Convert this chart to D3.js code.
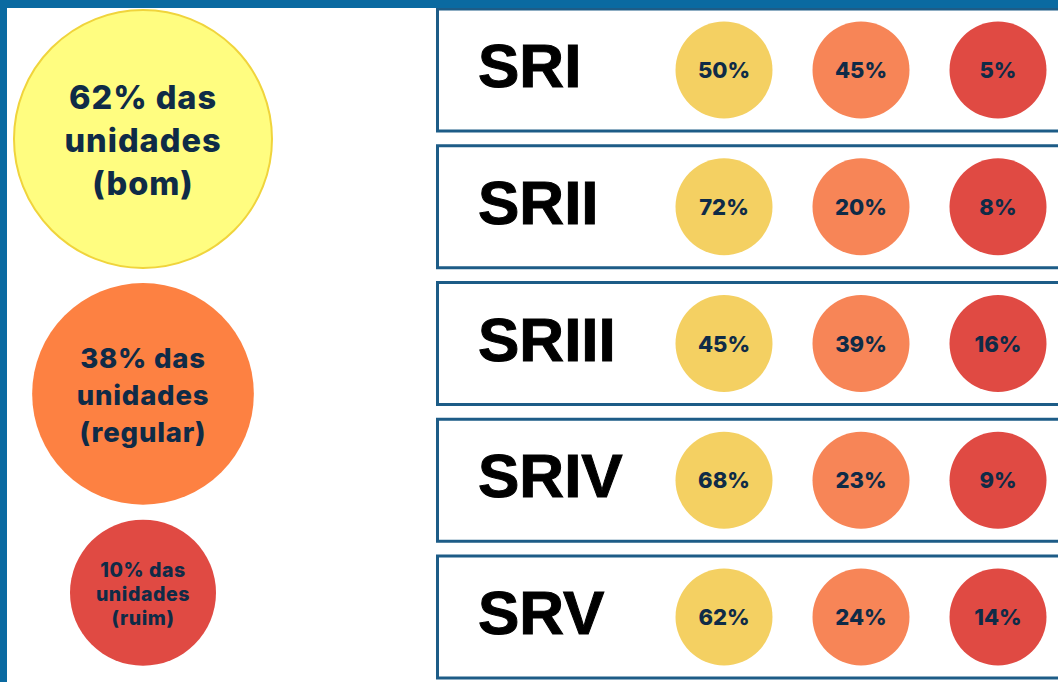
<!DOCTYPE html>
<html><head><meta charset="utf-8">
<script src="https://cdn.jsdelivr.net/npm/d3@7/dist/d3.min.js"></script>
<style>html,body{margin:0;padding:0;background:#fff;overflow:hidden}</style>
</head><body>
<svg id="chart" width="1058" height="682"></svg>
<script>
// Overall share of units by condition
const overallLabels = ["bom", "regular", "ruim"];
const overallValues = [62, 38, 10];
// Regions
const regions = ["SRI", "SRII", "SRIII", "SRIV", "SRV"];
const bom = [50, 72, 45, 68, 62];
const regular = [45, 20, 39, 23, 24];
const ruim = [5, 8, 16, 9, 14];

const W = 1058, H = 682;
const svg = d3.select("#chart");
const navy = "#0f2b47";
const bigFill = {bom: "#fffd80", regular: "#fd8142", ruim: "#e04a43"};
const smallFill = {bom: "#f4d062", regular: "#f78557", ruim: "#e04a43"};
const textFont = "Inter, 'Open Sans', sans-serif";

svg.append("rect").attr("width", W).attr("height", H).attr("fill", "#fff");

// Left: overall circles
const rScale = d3.scalePow().exponent(0.3).domain([10, 62]).range([73, 129]);
const cx = 143;
let yCursor = 10;
const gap = 15;
const overall = overallLabels.map((k, i) => {
  const r = rScale(overallValues[i]);
  const cy = yCursor + r;
  yCursor = cy + r + gap;
  return {k, v: overallValues[i], r, cy};
});
const fontScale = d3.scaleLinear().domain([73, 111, 129]).range([19.5, 27.5, 32.5]);
const lineScale = d3.scaleLinear().domain([73, 129]).range([24, 43]);
overall.forEach(d => {
  svg.append("circle").attr("cx", cx).attr("cy", d.cy).attr("r", d.r)
    .attr("fill", bigFill[d.k])
    .attr("stroke", d.k === "bom" ? "#f0d43c" : "none").attr("stroke-width", 2);
  const lines = [d.v + "% das", "unidades", "(" + d.k + ")"];
  const fs = fontScale(d.r), lh = lineScale(d.r);
  lines.forEach((t, j) => {
    svg.append("text").attr("x", cx).attr("y", d.cy + (j - 1) * lh + fs * 0.36 + 1)
      .attr("text-anchor", "middle")
      .attr("font-family", textFont)
      .attr("font-weight", 800).attr("font-size", fs)
      .attr("letter-spacing", fs * 0.03)
      .attr("fill", navy).text(t);
  });
});

// Right: region panels
const y = d3.scalePoint().domain(regions).range([70, 617]);
const x = d3.scalePoint().domain(overallLabels).range([724, 998]);
const series = {bom, regular, ruim};
const panelH = 122;
regions.forEach((reg, i) => {
  const cy = y(reg);
  const g = svg.append("g");
  g.append("rect").attr("x", 437.5).attr("y", cy - panelH / 2).attr("width", 700).attr("height", panelH)
    .attr("fill", "#fff").attr("stroke", "#1d5c87").attr("stroke-width", 3);
  g.append("text").attr("x", 478).attr("y", cy + 17)
    .attr("font-family", "'Liberation Sans', Arial, sans-serif")
    .attr("font-weight", 700).attr("font-size", 62)
    .attr("stroke", "#000").attr("stroke-width", 1)
    .attr("fill", "#000").text(reg);
  overallLabels.forEach(k => {
    g.append("circle").attr("cx", x(k)).attr("cy", cy).attr("r", 48.5).attr("fill", smallFill[k]);
    g.append("text").attr("x", x(k)).attr("y", cy + 8)
      .attr("text-anchor", "middle")
      .attr("font-family", textFont)
      .attr("font-weight", 800).attr("font-size", 22)
      .attr("fill", navy).text(series[k][i] + "%");
  });
});

// Blue frame
svg.append("rect").attr("x", 0).attr("y", 0).attr("width", W).attr("height", 8).attr("fill", "#0a6aa1");
svg.append("rect").attr("x", 0).attr("y", 0).attr("width", 7).attr("height", H).attr("fill", "#0a6aa1");
</script>
</body></html>
